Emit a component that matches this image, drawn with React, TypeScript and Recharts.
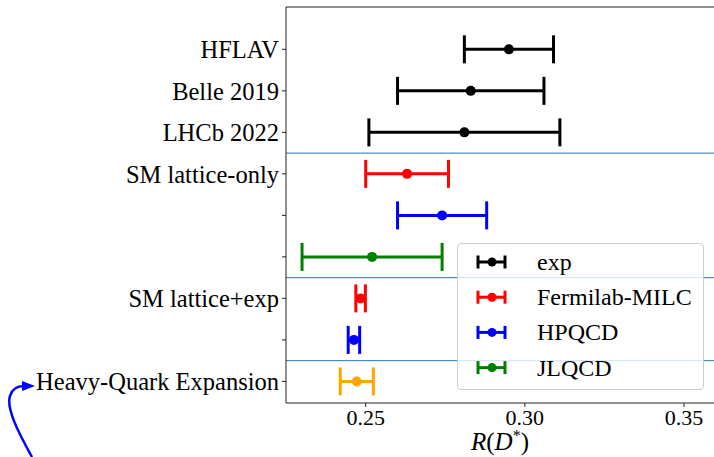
import React from "react";
import {
  ScatterChart,
  Scatter,
  XAxis,
  YAxis,
  ErrorBar,
  ReferenceLine,
  Customized,
} from "recharts";

const rowLabels = [
  "HFLAV",
  "Belle 2019",
  "LHCb 2022",
  "SM lattice-only",
  "",
  "",
  "SM lattice+exp",
  "",
  "Heavy-Quark Expansion",
];
const rowTicks = [0, 1, 2, 3, 4, 5, 6, 7, 8];
const xTicks = [0.25, 0.3, 0.35];
const separators = [2.5, 5.5, 7.5];

const expRows = [0, 1, 2];
const expValues = [0.295, 0.283, 0.281];
const expErrors = [0.014, 0.023, 0.03];

const fnalRows = [3, 6];
const fnalValues = [0.263, 0.2484];
const fnalErrors = [0.013, 0.0015];

const hpqcdRows = [4, 7];
const hpqcdValues = [0.274, 0.2463];
const hpqcdErrors = [0.014, 0.0018];

const jlqcdRows = [5];
const jlqcdValues = [0.252];
const jlqcdErrors = [0.022];

const hqeRows = [8];
const hqeValues = [0.2472];
const hqeErrors = [0.0052];

const legendNames = ["exp", "Fermilab-MILC", "HPQCD", "JLQCD"];
const legendColors = ["#000000", "#ff0000", "#0000ff", "#008000"];

const build = (rows: number[], vals: number[], errs: number[]) =>
  rows.map((r, i) => ({ y: r, x: vals[i], err: errs[i] }));

const series = [
  { name: "exp", color: "#000000", data: build(expRows, expValues, expErrors) },
  { name: "Fermilab-MILC", color: "#ff0000", data: build(fnalRows, fnalValues, fnalErrors) },
  { name: "HPQCD", color: "#0000ff", data: build(hpqcdRows, hpqcdValues, hpqcdErrors) },
  { name: "JLQCD", color: "#008000", data: build(jlqcdRows, jlqcdValues, jlqcdErrors) },
  { name: "HQE", color: "#ffa500", data: build(hqeRows, hqeValues, hqeErrors) },
];

const FONT = "Liberation Serif";
const SPINE = "#222222";

const Dot = (color: string) => (props: any) => (
  <circle cx={props.cx} cy={props.cy} r={5} fill={color} />
);

const LegendOverlay = () => (
  <div
    style={{
      position: "absolute",
      left: 457,
      top: 243,
      width: 245,
      height: 145,
      background: "rgba(255,255,255,0.8)",
      border: "1px solid #cccccc",
      borderRadius: 4,
      fontFamily: FONT,
    }}
  >
    <svg
      width={245}
      height={145}
      fontFamily={FONT}
      style={{ position: "absolute", left: 0, top: 0 }}
    >
      {legendNames.map((n, i) => {
        const cy = 18 + i * 35.2;
        const c = legendColors[i];
        return (
          <g key={n}>
            <line x1={20} x2={47} y1={cy} y2={cy} stroke={c} strokeWidth={3} />
            <line x1={20} x2={20} y1={cy - 6.5} y2={cy + 6.5} stroke={c} strokeWidth={3} />
            <line x1={47} x2={47} y1={cy - 6.5} y2={cy + 6.5} stroke={c} strokeWidth={3} />
            <circle cx={34} cy={cy} r={4.5} fill={c} />
            <text x={79} y={cy} dy="0.33em" fontFamily={FONT} fontSize={24} fill="#000">
              {n}
            </text>
          </g>
        );
      })}
    </svg>
  </div>
);

const Arrow = () => (
  <g>
    <path
      d="M 32 457 C 18 432, 6 408, 10 396 C 12 389, 16 386, 24 386"
      fill="none"
      stroke="#0000ff"
      strokeWidth={2.5}
    />
    <polygon points="35,386 22,381 22,391" fill="#0000ff" />
  </g>
);

const XLabel = (props: any) => {
  const vb = props.viewBox || {};
  const cx = vb.x + vb.width / 2;
  return (
    <text x={cx} y={450} textAnchor="middle" fontFamily={FONT} fontSize={25} fill="#000">
      <tspan fontStyle="italic">R</tspan>
      <tspan>(</tspan>
      <tspan fontStyle="italic">D</tspan>
      <tspan fontSize={16} dy={-9}>*</tspan>
      <tspan dy={9}>)</tspan>
    </text>
  );
};

export default function App() {
  return (
    <div style={{ position: "absolute", left: 0, top: 0, width: 714, height: 457, background: "#fff", fontFamily: FONT }}>
      <ScatterChart
        width={714}
        height={457}
        margin={{ top: 7, right: 0, bottom: 0, left: 0 }}
        style={{ fontFamily: FONT }}
      >
        <XAxis
          type="number"
          dataKey="x"
          domain={[0.22496, 0.35942]}
          ticks={xTicks}
          tickFormatter={(v: number) => v.toFixed(2)}
          allowDataOverflow
          height={54}
          tickSize={4}
          tickMargin={2}
          stroke={SPINE}
          tick={{ fontSize: 22, fill: "#000", fontFamily: FONT }}
          tickLine={{ stroke: SPINE }}
          axisLine={{ stroke: SPINE }}
          label={{ content: XLabel }}
        />
        <YAxis
          type="number"
          dataKey="y"
          domain={[-1.02, 8.52]}
          reversed
          ticks={rowTicks}
          interval={0}
          tickFormatter={(v: number) => rowLabels[v] ?? ""}
          allowDataOverflow
          width={286}
          tickSize={4}
          tickMargin={3}
          stroke={SPINE}
          tick={{ fontSize: 24.5, fill: "#000", fontFamily: FONT }}
          tickLine={{ stroke: SPINE }}
          axisLine={{ stroke: SPINE }}
        />
        <ReferenceLine y={-1.02} stroke={SPINE} strokeWidth={1} />
        {separators.map((s) => (
          <ReferenceLine key={s} y={s} stroke="#1f77b4" strokeWidth={1} />
        ))}
        {series.map((s) => (
          <Scatter
            key={s.name}
            name={s.name}
            data={s.data}
            fill={s.color}
            shape={Dot(s.color)}
            isAnimationActive={false}
          >
            <ErrorBar
              dataKey="err"
              direction="x"
              width={14}
              stroke={s.color}
              strokeWidth={3}
              isAnimationActive={false}
            />
          </Scatter>
        ))}
        <Customized component={Arrow} />
      </ScatterChart>
      <LegendOverlay />
    </div>
  );
}
